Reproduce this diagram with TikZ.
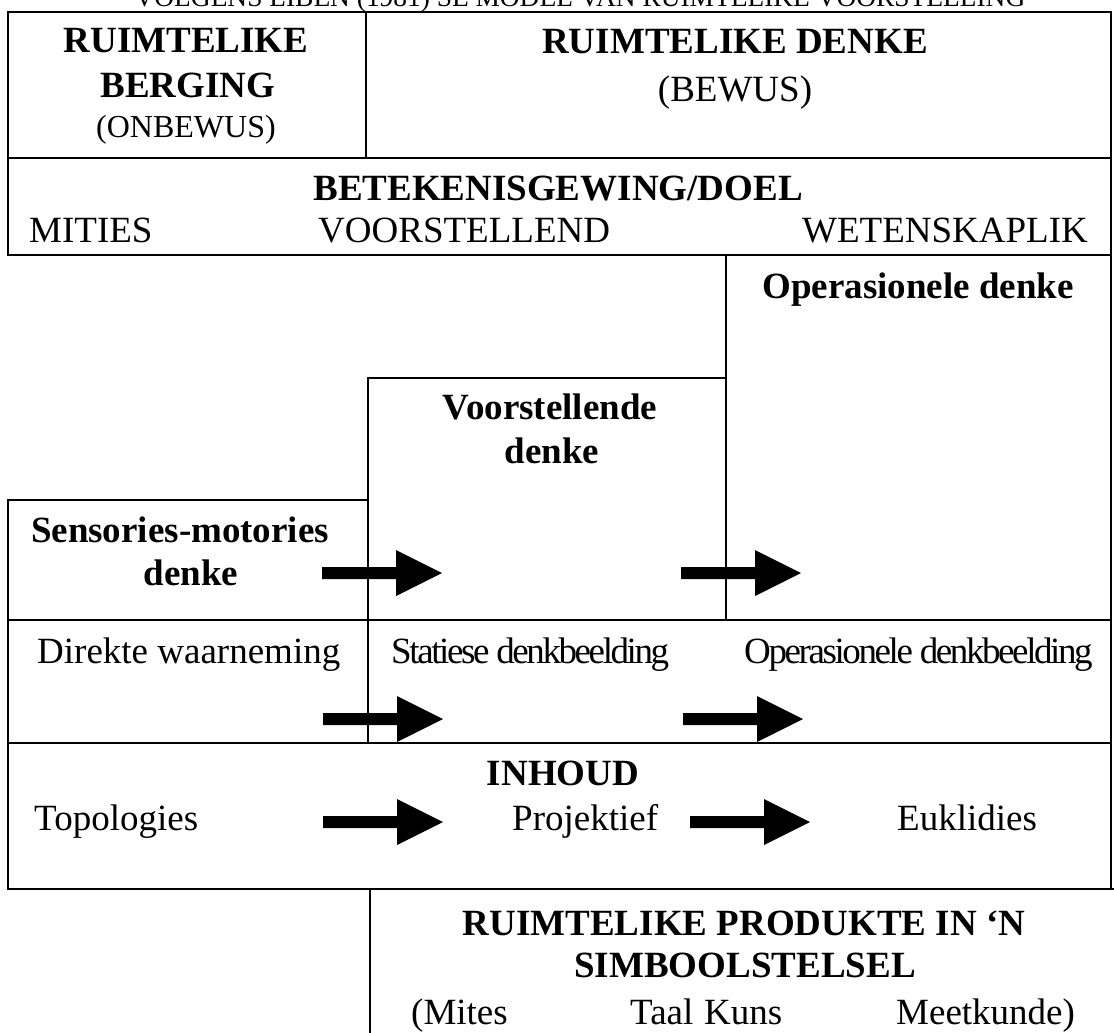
\documentclass[tikz,border=0pt]{standalone}
\usepackage{fontspec}
\setmainfont{Liberation Serif}
\begin{document}
\begin{tikzpicture}[x=1pt,y=-1pt,
  frame/.style={line width=2pt, line join=miter, line cap=rect},
  bhead/.style={font=\fontsize{37}{40}\selectfont\bfseries, inner sep=0pt, anchor=base},
  txt/.style={font=\fontsize{37}{40}\selectfont, inner sep=0pt, anchor=base},
  txtl/.style={txt, anchor=base west},
  tighttxt/.style={font=\fontsize{37}{40}\selectfont\addfontfeature{LetterSpace=-6.5}, inner sep=0pt, anchor=base west},
  blockarrow/.pic={\fill[black] (0,-6) -- (74,-6) -- (74,-23) -- (120,0) -- (74,23) -- (74,6) -- (0,6) -- cycle;}
]
\useasboundingbox (0,0) rectangle (1114,1033);
\clip (0,0) rectangle (1114,1033);
\fill[white] (0,0) rectangle (1114,1033);

% title (cut off at the top, as in the reference)
\node[txt, font=\fontsize{27.4}{30}\selectfont] (title) at (580,7) {VOLGENS LIBEN (1981) SE MODEL VAN RUIMTELIKE VOORSTELLING};

% frames
\draw[frame] (8,12) rectangle (1111,158);
\draw[frame] (366,12) -- (366,158);
\draw[frame] (8,158) rectangle (1111,255);
\draw[frame] (726,255) rectangle (1111,620);
\draw[frame] (368,378) rectangle (726,620);
\draw[frame] (8,500) rectangle (368,620);
\draw[frame] (8,620) rectangle (1111,743);
\draw[frame] (368,620) -- (368,743);
\draw[frame] (8,743) rectangle (1111,889);
\draw[frame] (370,1040) -- (370,889) -- (1114,889);

% row 1
\node[bhead] (berg1) at (186,53) {RUIMTELIKE};
\node[bhead] (berg2) at (188,97) {BERGING};
\node[txt, font=\fontsize{32}{36}\selectfont] (berg3) at (186,137) {(ONBEWUS)};
\node[bhead] (denk1) at (735,54) {RUIMTELIKE DENKE};
\node[txt] (denk2) at (735,102) {(BEWUS)};

% row 2
\node[bhead] (doel) at (558,200) {BETEKENISGEWING/DOEL};
\node[txtl] (mities) at (29,242) {MITIES};
\node[txtl] (voor) at (318,242) {VOORSTELLEND};
\node[txtl] (wet) at (802,242) {WETENSKAPLIK};

% stages
\node[bhead] (oper) at (918,298) {Operasionele denke};
\node[bhead] (voorst1) at (550,419) {Voorstellende};
\node[bhead] (voorst2) at (552,463) {denke};
\node[bhead] (sens1) at (180,542) {Sensories-motories};
\node[bhead] (sens2) at (191,585) {denke};

% images row
\node[txtl] (dir) at (37,663) {Direkte waarneming};
\node[tighttxt] (stat) at (391,663) {Statiese denkbeelding};
\node[tighttxt] (opdb) at (744,663) {Operasionele denkbeelding};

% inhoud
\node[bhead] (inh) at (563,785) {INHOUD};
\node[txtl] (topo) at (34,830) {Topologies};
\node[txtl] (proj) at (512,830) {Projektief};
\node[txtl] (eukl) at (897,830) {Euklidies};

% products
\node[bhead] (prod1) at (744,935) {RUIMTELIKE PRODUKTE IN ‘N};
\node[bhead] (prod2) at (745,977) {SIMBOOLSTELSEL};
\node[txtl] (mites) at (411,1024) {(Mites};
\node[txtl] (taal) at (630,1024) {Taal};
\node[txtl] (kuns) at (704,1024) {Kuns};
\node[txtl] (meet) at (896,1024) {Meetkunde)};

% arrows
\pic at (322,573) {blockarrow};
\pic at (681,573) {blockarrow};
\pic at (323,719) {blockarrow};
\pic at (683,719) {blockarrow};
\pic at (323,822) {blockarrow};
\pic at (690,822) {blockarrow};
\end{tikzpicture}
\end{document}
